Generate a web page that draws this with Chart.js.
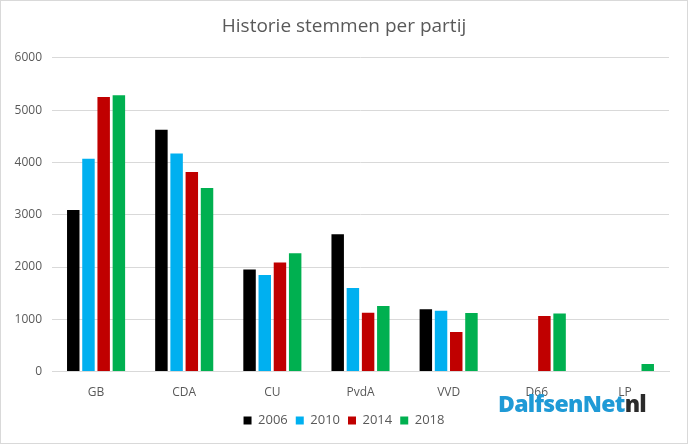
<!DOCTYPE html>
<html>
<head>
<meta charset="utf-8">
<script src="https://cdn.jsdelivr.net/npm/chart.js@4.4.0/dist/chart.umd.min.js"></script>
<style>
  html, body { margin: 0; padding: 0; background: #fff; }
  #wrap { position: relative; width: 686px; height: 442px; border: 1px solid #d9d9d9; }
  #logo {
    position: absolute; left: 497px; top: 386px;
    font-family: "Open Sans", sans-serif; font-weight: 800; font-size: 23px;
    letter-spacing: -0.7px; color: #1f9ad6; white-space: nowrap;
  }
  #logo span { color: #2b2b2b; }
</style>
</head>
<body>
<div id="wrap">
  <canvas id="chart" width="686" height="442"></canvas>
  <div id="logo">DalfsenNet<span>nl</span></div>
</div>
<script>
const partijen = ['GB', 'CDA', 'CU', 'PvdA', 'VVD', 'D66', 'LP'];
const jaren = ['2006', '2010', '2014', '2018'];
const stemmen2006 = [3090, 4625, 1950, 2625, 1190, null, null];
const stemmen2010 = [4070, 4170, 1845, 1600, 1165, null, null];
const stemmen2014 = [5250, 3815, 2085, 1125, 755, 1065, null];
const stemmen2018 = [5285, 3510, 2265, 1255, 1120, 1110, 145];
const kleuren = ['#000000', '#00b0f0', '#c00000', '#00b050'];
const yTicks = [0, 1000, 2000, 3000, 4000, 5000, 6000];

const reeksen = [stemmen2006, stemmen2010, stemmen2014, stemmen2018];
const tekstKleur = '#595959';
const font = 'Open Sans';

new Chart(document.getElementById('chart'), {
  type: 'bar',
  data: {
    labels: partijen,
    datasets: reeksen.map((data, i) => ({
      label: jaren[i],
      data,
      backgroundColor: kleuren[i],
      borderWidth: 0,
      categoryPercentage: 0.69,
      barPercentage: 0.82,
    })),
  },
  options: {
    responsive: false,
    animation: false,
    layout: { padding: { left: 8, right: 8, top: 0, bottom: 6 } },
    scales: {
      x: {
        grid: { display: false },
        border: { color: '#d9d9d9', width: 1 },
        ticks: { color: tekstKleur, font: { family: font, size: 12 }, padding: 6 },
      },
      y: {
        min: 0,
        max: 6000,
        afterBuildTicks: (axis) => { axis.ticks = yTicks.map(v => ({ value: v })); },
        afterFit: (axis) => { axis.width = 43; },
        grid: { color: '#d9d9d9', drawTicks: false },
        border: { display: false },
        ticks: {
          color: tekstKleur,
          font: { family: font, size: 12 },
          padding: 10,
          callback: (v) => String(v),
        },
      },
      // lege as rechts, alleen zodat titel en legenda gecentreerd blijven
      yRechts: {
        position: 'right',
        afterFit: (axis) => { axis.width = 10; },
        grid: { display: false },
        border: { display: false },
        ticks: { display: false },
      },
    },
    plugins: {
      title: {
        display: true,
        text: 'Historie stemmen per partij',
        color: tekstKleur,
        font: { family: font, size: 19, weight: 'normal' },
        padding: { top: 14, bottom: 20 },
      },
      legend: {
        position: 'bottom',
        labels: {
          color: tekstKleur,
          font: { family: font, size: 13 },
          boxWidth: 8,
          boxHeight: 8,
          padding: 8,
        },
      },
      tooltip: { enabled: false },
    },
  },
});
</script>
</body>
</html>
